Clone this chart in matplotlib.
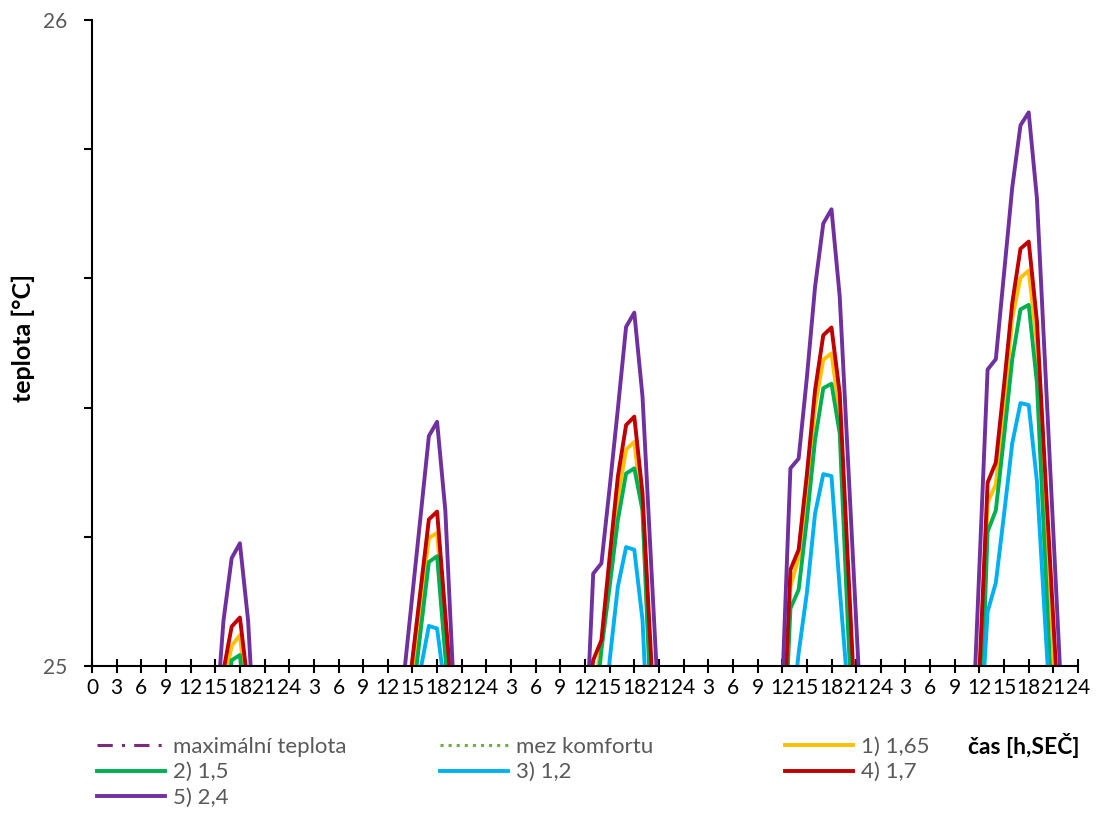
import numpy as np
import matplotlib
matplotlib.use("Agg")
import matplotlib.pyplot as plt
from matplotlib.ticker import MultipleLocator

plt.rcParams['font.family'] = ['Lato', 'DejaVu Sans']

# hourly samples over five days, axis labelled every 3 h
hours = np.arange(121)
tick_pos = np.arange(0, 121, 3)
tick_labels = ['0'] + ['3', '6', '9', '12', '15', '18', '21', '24'] * 5

# (first hour, hourly temperatures) around each afternoon peak; the rest stays below 25 °C
v165 = [(16, [24.97, 25.031, 25.048, 24.93]),
        (39, [24.958, 25.097, 25.198, 25.206, 25.059, 24.91]),
        (61, [24.96, 25.03, 25.14, 25.26, 25.335, 25.347, 25.24, 24.96]),
        (84, [24.8, 25.123, 25.167, 25.27, 25.401, 25.474, 25.484, 25.39, 25.11, 24.85]),
        (108, [24.95, 25.253, 25.281, 25.40, 25.539, 25.601, 25.612, 25.50, 25.26, 25.02, 24.8])]
v15 = [(16, [24.9, 25.009, 25.017, 24.9]),
       (39, [24.945, 25.055, 25.161, 25.17, 25.015, 24.86]),
       (61, [24.9, 25.025, 25.123, 25.226, 25.298, 25.306, 25.241, 24.94]),
       (84, [24.8, 25.089, 25.118, 25.226, 25.35, 25.43, 25.437, 25.36, 25.06, 24.8]),
       (108, [24.85, 25.208, 25.241, 25.355, 25.475, 25.552, 25.559, 25.438, 25.164, 24.89])]
v12 = [(39, [24.85, 24.995, 25.062, 25.058, 24.96]),
       (62, [24.85, 25.009, 25.123, 25.184, 25.18, 25.071, 24.8]),
       (85, [24.9, 25.02, 25.113, 25.236, 25.297, 25.294, 25.12, 24.96]),
       (108, [24.87, 25.084, 25.129, 25.235, 25.345, 25.407, 25.404, 25.286, 25.066, 24.85])]
v17 = [(16, [24.993, 25.061, 25.075, 24.968]),
       (38, [24.90, 25.011, 25.119, 25.227, 25.239, 25.08, 24.92]),
       (60, [24.92, 25.009, 25.04, 25.169, 25.293, 25.373, 25.386, 25.267, 25.024, 24.78]),
       (84, [24.85, 25.149, 25.18, 25.296, 25.427, 25.512, 25.524, 25.422, 25.16, 24.9]),
       (107, [24.7, 24.99, 25.284, 25.315, 25.435, 25.562, 25.646, 25.657, 25.534, 25.30, 25.07, 24.84])]
v24 = [(15, [24.90, 25.07, 25.167, 25.19, 25.07, 24.84]),
       (38, [24.989, 25.111, 25.233, 25.356, 25.378, 25.241, 24.97]),
       (60, [24.857, 25.143, 25.159, 25.276, 25.398, 25.525, 25.547, 25.417, 25.17, 24.925]),
       (84, [24.966, 25.306, 25.321, 25.446, 25.587, 25.685, 25.707, 25.572, 25.32, 25.07, 24.82]),
       (107, [24.847, 25.153, 25.459, 25.475, 25.608, 25.741, 25.837, 25.857, 25.724, 25.465, 25.206, 24.947])]


def series(segments):
    y = np.full(hours.size, np.nan)
    for start, vals in segments:
        y[start:start + len(vals)] = vals
    return y


fig = plt.figure(figsize=(10.97, 8.16), dpi=100)
ax = fig.add_axes([92 / 1097, 1 - 666 / 816, (1078 - 92) / 1097, (666 - 20) / 816])

lw = 2.8
h_max, = ax.plot([], [], color='#7B2C7B', lw=2.2, dashes=(5, 3, 1, 3), label='maximální teplota')
h_mez, = ax.plot([], [], color='#70AD47', lw=2.2, ls=':', label='mez komfortu')
h1, = ax.plot(hours, series(v165), color='#FFC000', lw=lw, label='1) 1,65')
h2, = ax.plot(hours, series(v15), color='#00B050', lw=lw, label='2) 1,5')
h3, = ax.plot(hours, series(v12), color='#00B0F0', lw=lw, label='3) 1,2')
h4, = ax.plot(hours, series(v17), color='#C00000', lw=lw, label='4) 1,7')
h5, = ax.plot(hours, series(v24), color='#7030A0', lw=lw, label='5) 2,4')

ax.set_xlim(0, 120)
ax.set_ylim(25, 26)
for s in ['top', 'right']:
    ax.spines[s].set_visible(False)
for s in ['left', 'bottom']:
    ax.spines[s].set_linewidth(1.5)

ax.set_xticks(tick_pos)
ax.set_xticklabels(tick_labels)
ax.tick_params(axis='x', direction='inout', length=10, width=1.5, pad=4,
               labelsize=15, labelcolor='black')
ax.set_yticks([25, 26])
ax.set_yticklabels(['25', '26'])
ax.yaxis.set_minor_locator(MultipleLocator(0.2))
ax.tick_params(axis='y', which='both', direction='out', length=6, width=1.5, pad=12,
               labelsize=15, labelcolor='#595959')

fig.text(23 / 1097, 1 - 338 / 816, 'teplota [°C]', rotation=90, ha='center', va='center',
         fontsize=18, fontweight='bold')
fig.text(1080 / 1097, 1 - 746 / 816, 'čas [h,SEČ]', ha='right', va='center',
         fontsize=16.5, fontweight='bold')

# legend laid out in three equal-width columns, filled row by row
columns = [([h_max, h2, h5], 97), ([h_mez, h3], 440), ([h1, h4], 785)]
for col, x in columns:
    leg = fig.legend(handles=col, labels=[h.get_label() for h in col],
                     loc='upper left', bbox_to_anchor=(x / 1097, 1 - 737 / 816),
                     ncol=1, frameon=False, fontsize=16, handlelength=3.06,
                     labelspacing=0.24, handletextpad=0.36,
                     borderpad=0, borderaxespad=0)
    for t in leg.get_texts():
        t.set_color('#595959')

fig.savefig('out.png', dpi=100)
